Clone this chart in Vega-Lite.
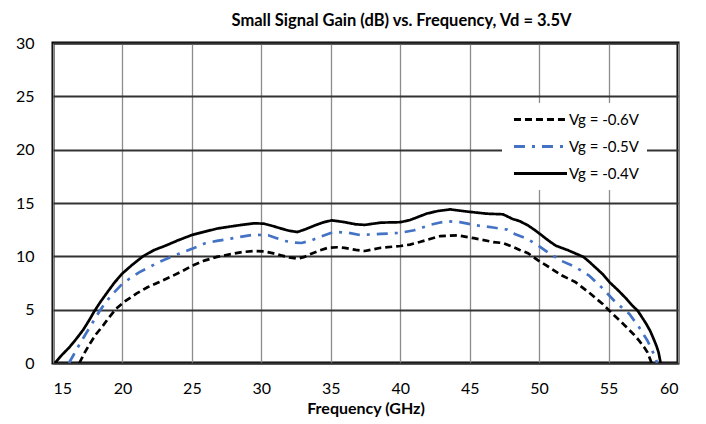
{
  "$schema": "https://vega.github.io/schema/vega-lite/v6.json",
  "autosize": "none",
  "width": 625,
  "height": 320,
  "padding": {"left": 53, "top": 43, "right": 28, "bottom": 61},
  "background": "white",
  "title": {
    "text": "Small Signal Gain (dB) vs. Frequency, Vd = 3.5V",
    "font": "Lato",
    "fontSize": 16.5,
    "fontWeight": "bold",
    "color": "black",
    "anchor": "middle",
    "frame": "group",
    "dx": 36,
    "offset": 6
  },
  "data": {
    "values": [
      {"f": 15.15, "g": 0, "s": "Vg = -0.4V"},
      {"f": 15.6, "g": 0.7, "s": "Vg = -0.4V"},
      {"f": 16.2, "g": 1.5, "s": "Vg = -0.4V"},
      {"f": 16.7, "g": 2.3, "s": "Vg = -0.4V"},
      {"f": 17.17, "g": 3.1, "s": "Vg = -0.4V"},
      {"f": 17.6, "g": 4.0, "s": "Vg = -0.4V"},
      {"f": 18.0, "g": 4.9, "s": "Vg = -0.4V"},
      {"f": 18.4, "g": 5.7, "s": "Vg = -0.4V"},
      {"f": 18.84, "g": 6.5, "s": "Vg = -0.4V"},
      {"f": 19.4, "g": 7.5, "s": "Vg = -0.4V"},
      {"f": 20.0, "g": 8.4, "s": "Vg = -0.4V"},
      {"f": 20.7, "g": 9.2, "s": "Vg = -0.4V"},
      {"f": 21.47, "g": 10.0, "s": "Vg = -0.4V"},
      {"f": 22.3, "g": 10.6, "s": "Vg = -0.4V"},
      {"f": 23.1, "g": 11.0, "s": "Vg = -0.4V"},
      {"f": 24.0, "g": 11.5, "s": "Vg = -0.4V"},
      {"f": 25.0, "g": 12.0, "s": "Vg = -0.4V"},
      {"f": 25.9, "g": 12.3, "s": "Vg = -0.4V"},
      {"f": 26.8, "g": 12.6, "s": "Vg = -0.4V"},
      {"f": 27.8, "g": 12.8, "s": "Vg = -0.4V"},
      {"f": 28.6, "g": 12.95, "s": "Vg = -0.4V"},
      {"f": 29.5, "g": 13.1, "s": "Vg = -0.4V"},
      {"f": 30.2, "g": 13.06, "s": "Vg = -0.4V"},
      {"f": 30.8, "g": 12.85, "s": "Vg = -0.4V"},
      {"f": 31.44, "g": 12.6, "s": "Vg = -0.4V"},
      {"f": 32.0, "g": 12.4, "s": "Vg = -0.4V"},
      {"f": 32.6, "g": 12.28, "s": "Vg = -0.4V"},
      {"f": 33.2, "g": 12.55, "s": "Vg = -0.4V"},
      {"f": 33.85, "g": 12.9, "s": "Vg = -0.4V"},
      {"f": 34.5, "g": 13.2, "s": "Vg = -0.4V"},
      {"f": 35.05, "g": 13.37, "s": "Vg = -0.4V"},
      {"f": 35.5, "g": 13.3, "s": "Vg = -0.4V"},
      {"f": 36.0, "g": 13.2, "s": "Vg = -0.4V"},
      {"f": 36.8, "g": 13.0, "s": "Vg = -0.4V"},
      {"f": 37.45, "g": 12.95, "s": "Vg = -0.4V"},
      {"f": 38.6, "g": 13.16, "s": "Vg = -0.4V"},
      {"f": 40.0, "g": 13.2, "s": "Vg = -0.4V"},
      {"f": 40.7, "g": 13.4, "s": "Vg = -0.4V"},
      {"f": 41.3, "g": 13.7, "s": "Vg = -0.4V"},
      {"f": 41.9, "g": 14.0, "s": "Vg = -0.4V"},
      {"f": 42.7, "g": 14.25, "s": "Vg = -0.4V"},
      {"f": 43.6, "g": 14.4, "s": "Vg = -0.4V"},
      {"f": 44.2, "g": 14.3, "s": "Vg = -0.4V"},
      {"f": 44.8, "g": 14.2, "s": "Vg = -0.4V"},
      {"f": 45.5, "g": 14.1, "s": "Vg = -0.4V"},
      {"f": 46.2, "g": 14.0, "s": "Vg = -0.4V"},
      {"f": 47.4, "g": 13.94, "s": "Vg = -0.4V"},
      {"f": 48.1, "g": 13.5, "s": "Vg = -0.4V"},
      {"f": 48.6, "g": 13.3, "s": "Vg = -0.4V"},
      {"f": 49.2, "g": 12.9, "s": "Vg = -0.4V"},
      {"f": 49.7, "g": 12.45, "s": "Vg = -0.4V"},
      {"f": 50.2, "g": 11.96, "s": "Vg = -0.4V"},
      {"f": 50.7, "g": 11.45, "s": "Vg = -0.4V"},
      {"f": 51.2, "g": 11.0, "s": "Vg = -0.4V"},
      {"f": 52.1, "g": 10.56, "s": "Vg = -0.4V"},
      {"f": 53.2, "g": 9.94, "s": "Vg = -0.4V"},
      {"f": 53.6, "g": 9.5, "s": "Vg = -0.4V"},
      {"f": 54.1, "g": 8.9, "s": "Vg = -0.4V"},
      {"f": 54.6, "g": 8.3, "s": "Vg = -0.4V"},
      {"f": 55.05, "g": 7.6, "s": "Vg = -0.4V"},
      {"f": 55.7, "g": 6.8, "s": "Vg = -0.4V"},
      {"f": 56.3, "g": 6.0, "s": "Vg = -0.4V"},
      {"f": 56.7, "g": 5.4, "s": "Vg = -0.4V"},
      {"f": 57.1, "g": 4.9, "s": "Vg = -0.4V"},
      {"f": 57.4, "g": 4.3, "s": "Vg = -0.4V"},
      {"f": 57.7, "g": 3.7, "s": "Vg = -0.4V"},
      {"f": 58.0, "g": 3.0, "s": "Vg = -0.4V"},
      {"f": 58.2, "g": 2.4, "s": "Vg = -0.4V"},
      {"f": 58.45, "g": 1.6, "s": "Vg = -0.4V"},
      {"f": 58.6, "g": 1.0, "s": "Vg = -0.4V"},
      {"f": 58.75, "g": 0, "s": "Vg = -0.4V"},

      {"f": 16.15, "g": 0, "s": "Vg = -0.5V"},
      {"f": 16.5, "g": 0.8, "s": "Vg = -0.5V"},
      {"f": 16.93, "g": 1.8, "s": "Vg = -0.5V"},
      {"f": 17.3, "g": 2.6, "s": "Vg = -0.5V"},
      {"f": 17.65, "g": 3.35, "s": "Vg = -0.5V"},
      {"f": 18.0, "g": 4.1, "s": "Vg = -0.5V"},
      {"f": 18.37, "g": 4.9, "s": "Vg = -0.5V"},
      {"f": 18.8, "g": 5.7, "s": "Vg = -0.5V"},
      {"f": 19.32, "g": 6.5, "s": "Vg = -0.5V"},
      {"f": 19.9, "g": 7.3, "s": "Vg = -0.5V"},
      {"f": 20.5, "g": 7.9, "s": "Vg = -0.5V"},
      {"f": 21.2, "g": 8.5, "s": "Vg = -0.5V"},
      {"f": 21.95, "g": 9.0, "s": "Vg = -0.5V"},
      {"f": 22.7, "g": 9.5, "s": "Vg = -0.5V"},
      {"f": 23.4, "g": 9.9, "s": "Vg = -0.5V"},
      {"f": 24.2, "g": 10.3, "s": "Vg = -0.5V"},
      {"f": 25.0, "g": 10.7, "s": "Vg = -0.5V"},
      {"f": 25.9, "g": 11.2, "s": "Vg = -0.5V"},
      {"f": 26.8, "g": 11.45, "s": "Vg = -0.5V"},
      {"f": 27.8, "g": 11.66, "s": "Vg = -0.5V"},
      {"f": 28.6, "g": 11.85, "s": "Vg = -0.5V"},
      {"f": 29.5, "g": 12.03, "s": "Vg = -0.5V"},
      {"f": 30.5, "g": 11.97, "s": "Vg = -0.5V"},
      {"f": 31.1, "g": 11.7, "s": "Vg = -0.5V"},
      {"f": 31.7, "g": 11.44, "s": "Vg = -0.5V"},
      {"f": 32.3, "g": 11.3, "s": "Vg = -0.5V"},
      {"f": 32.9, "g": 11.25, "s": "Vg = -0.5V"},
      {"f": 33.5, "g": 11.45, "s": "Vg = -0.5V"},
      {"f": 34.1, "g": 11.75, "s": "Vg = -0.5V"},
      {"f": 34.7, "g": 12.05, "s": "Vg = -0.5V"},
      {"f": 35.2, "g": 12.28, "s": "Vg = -0.5V"},
      {"f": 35.8, "g": 12.25, "s": "Vg = -0.5V"},
      {"f": 36.3, "g": 12.2, "s": "Vg = -0.5V"},
      {"f": 37.1, "g": 12.0, "s": "Vg = -0.5V"},
      {"f": 38.6, "g": 12.1, "s": "Vg = -0.5V"},
      {"f": 40.0, "g": 12.2, "s": "Vg = -0.5V"},
      {"f": 41.0, "g": 12.44, "s": "Vg = -0.5V"},
      {"f": 41.6, "g": 12.7, "s": "Vg = -0.5V"},
      {"f": 42.2, "g": 12.97, "s": "Vg = -0.5V"},
      {"f": 42.8, "g": 13.15, "s": "Vg = -0.5V"},
      {"f": 43.4, "g": 13.28, "s": "Vg = -0.5V"},
      {"f": 44.3, "g": 13.2, "s": "Vg = -0.5V"},
      {"f": 45.5, "g": 12.9, "s": "Vg = -0.5V"},
      {"f": 46.7, "g": 12.7, "s": "Vg = -0.5V"},
      {"f": 47.7, "g": 12.5, "s": "Vg = -0.5V"},
      {"f": 48.25, "g": 12.1, "s": "Vg = -0.5V"},
      {"f": 49.2, "g": 11.6, "s": "Vg = -0.5V"},
      {"f": 49.95, "g": 11.0, "s": "Vg = -0.5V"},
      {"f": 50.7, "g": 10.3, "s": "Vg = -0.5V"},
      {"f": 51.65, "g": 9.55, "s": "Vg = -0.5V"},
      {"f": 52.6, "g": 9.0, "s": "Vg = -0.5V"},
      {"f": 53.6, "g": 8.2, "s": "Vg = -0.5V"},
      {"f": 54.6, "g": 6.96, "s": "Vg = -0.5V"},
      {"f": 55.5, "g": 5.7, "s": "Vg = -0.5V"},
      {"f": 56.5, "g": 4.6, "s": "Vg = -0.5V"},
      {"f": 57.2, "g": 3.35, "s": "Vg = -0.5V"},
      {"f": 57.8, "g": 2.1, "s": "Vg = -0.5V"},
      {"f": 58.2, "g": 1.0, "s": "Vg = -0.5V"},
      {"f": 58.5, "g": 0, "s": "Vg = -0.5V"},

      {"f": 16.9, "g": 0, "s": "Vg = -0.6V"},
      {"f": 17.25, "g": 0.9, "s": "Vg = -0.6V"},
      {"f": 17.65, "g": 1.8, "s": "Vg = -0.6V"},
      {"f": 18.1, "g": 2.7, "s": "Vg = -0.6V"},
      {"f": 18.6, "g": 3.5, "s": "Vg = -0.6V"},
      {"f": 19.05, "g": 4.3, "s": "Vg = -0.6V"},
      {"f": 19.56, "g": 5.1, "s": "Vg = -0.6V"},
      {"f": 20.2, "g": 5.8, "s": "Vg = -0.6V"},
      {"f": 21.0, "g": 6.5, "s": "Vg = -0.6V"},
      {"f": 21.8, "g": 7.1, "s": "Vg = -0.6V"},
      {"f": 22.66, "g": 7.6, "s": "Vg = -0.6V"},
      {"f": 23.5, "g": 8.1, "s": "Vg = -0.6V"},
      {"f": 24.3, "g": 8.6, "s": "Vg = -0.6V"},
      {"f": 25.0, "g": 9.1, "s": "Vg = -0.6V"},
      {"f": 25.9, "g": 9.6, "s": "Vg = -0.6V"},
      {"f": 26.8, "g": 9.95, "s": "Vg = -0.6V"},
      {"f": 27.8, "g": 10.2, "s": "Vg = -0.6V"},
      {"f": 28.6, "g": 10.4, "s": "Vg = -0.6V"},
      {"f": 29.5, "g": 10.5, "s": "Vg = -0.6V"},
      {"f": 30.2, "g": 10.47, "s": "Vg = -0.6V"},
      {"f": 30.8, "g": 10.3, "s": "Vg = -0.6V"},
      {"f": 31.4, "g": 10.1, "s": "Vg = -0.6V"},
      {"f": 32.0, "g": 9.9, "s": "Vg = -0.6V"},
      {"f": 32.6, "g": 9.78, "s": "Vg = -0.6V"},
      {"f": 33.1, "g": 9.95, "s": "Vg = -0.6V"},
      {"f": 33.6, "g": 10.25, "s": "Vg = -0.6V"},
      {"f": 34.2, "g": 10.55, "s": "Vg = -0.6V"},
      {"f": 34.8, "g": 10.8, "s": "Vg = -0.6V"},
      {"f": 35.5, "g": 10.85, "s": "Vg = -0.6V"},
      {"f": 36.0, "g": 10.8, "s": "Vg = -0.6V"},
      {"f": 36.8, "g": 10.6, "s": "Vg = -0.6V"},
      {"f": 37.45, "g": 10.5, "s": "Vg = -0.6V"},
      {"f": 38.6, "g": 10.8, "s": "Vg = -0.6V"},
      {"f": 40.0, "g": 10.97, "s": "Vg = -0.6V"},
      {"f": 40.7, "g": 11.1, "s": "Vg = -0.6V"},
      {"f": 41.4, "g": 11.34, "s": "Vg = -0.6V"},
      {"f": 42.2, "g": 11.65, "s": "Vg = -0.6V"},
      {"f": 42.9, "g": 11.9, "s": "Vg = -0.6V"},
      {"f": 44.1, "g": 11.97, "s": "Vg = -0.6V"},
      {"f": 45.3, "g": 11.7, "s": "Vg = -0.6V"},
      {"f": 46.7, "g": 11.34, "s": "Vg = -0.6V"},
      {"f": 47.4, "g": 11.25, "s": "Vg = -0.6V"},
      {"f": 48.1, "g": 10.9, "s": "Vg = -0.6V"},
      {"f": 48.6, "g": 10.6, "s": "Vg = -0.6V"},
      {"f": 49.2, "g": 10.3, "s": "Vg = -0.6V"},
      {"f": 49.95, "g": 9.6, "s": "Vg = -0.6V"},
      {"f": 50.7, "g": 9.0, "s": "Vg = -0.6V"},
      {"f": 51.65, "g": 8.2, "s": "Vg = -0.6V"},
      {"f": 52.6, "g": 7.6, "s": "Vg = -0.6V"},
      {"f": 53.6, "g": 6.6, "s": "Vg = -0.6V"},
      {"f": 54.6, "g": 5.5, "s": "Vg = -0.6V"},
      {"f": 55.3, "g": 4.6, "s": "Vg = -0.6V"},
      {"f": 55.8, "g": 4.0, "s": "Vg = -0.6V"},
      {"f": 56.3, "g": 3.35, "s": "Vg = -0.6V"},
      {"f": 56.8, "g": 2.7, "s": "Vg = -0.6V"},
      {"f": 57.2, "g": 2.1, "s": "Vg = -0.6V"},
      {"f": 57.6, "g": 1.4, "s": "Vg = -0.6V"},
      {"f": 57.8, "g": 1.0, "s": "Vg = -0.6V"},
      {"f": 58.1, "g": 0, "s": "Vg = -0.6V"}
    ]
  },
  "mark": {"type": "line", "strokeWidth": 2.7, "clip": true},
  "encoding": {
    "x": {
      "field": "f",
      "type": "quantitative",
      "title": "Frequency (GHz)",
      "scale": {"domain": [15, 60], "nice": false, "zero": false},
      "axis": {
        "values": [15, 20, 25, 30, 35, 40, 45, 50, 55, 60],
        "gridColor": "#8c8c8c",
        "gridWidth": 1.3,
        "labelPadding": 17,
        "titlePadding": 4
      }
    },
    "y": {
      "field": "g",
      "type": "quantitative",
      "title": null,
      "scale": {"domain": [0, 30], "nice": false},
      "axis": {
        "values": [0, 5, 10, 15, 20, 25, 30],
        "gridColor": "#333333",
        "gridWidth": 1.8,
        "labelPadding": 19
      }
    },
    "color": {
      "field": "s",
      "type": "nominal",
      "title": null,
      "scale": {
        "domain": ["Vg = -0.6V", "Vg = -0.5V", "Vg = -0.4V"],
        "range": ["black", "#4472C4", "black"]
      },
      "legend": {
        "orient": "none",
        "legendX": 449,
        "legendY": 60,
        "fillColor": "white",
        "padding": 8,
        "symbolType": "M-4,0L4,0",
        "symbolSize": 176,
        "symbolOffset": 22,
        "symbolStrokeWidth": 3,
        "labelFontSize": 15,
        "labelFont": "Lato",
        "labelColor": "black",
        "labelOffset": 20,
        "rowPadding": 10,
        "labelLimit": 200
      }
    },
    "strokeDash": {
      "field": "s",
      "type": "nominal",
      "title": null,
      "scale": {
        "domain": ["Vg = -0.6V", "Vg = -0.5V", "Vg = -0.4V"],
        "range": [[7, 4], [11, 7, 3, 7], [1, 0]]
      }
    },
    "order": {"field": "f", "type": "quantitative"}
  },
  "config": {
    "font": "Lato",
    "view": {"stroke": "black", "strokeWidth": 3},
    "axis": {
      "domain": false,
      "ticks": false,
      "grid": true,
      "labelFont": "Lato",
      "labelFontSize": 16,
      "labelColor": "black",
      "titleFont": "Lato",
      "titleFontSize": 16,
      "titleFontWeight": "bold",
      "titleColor": "black"
    }
  }
}
